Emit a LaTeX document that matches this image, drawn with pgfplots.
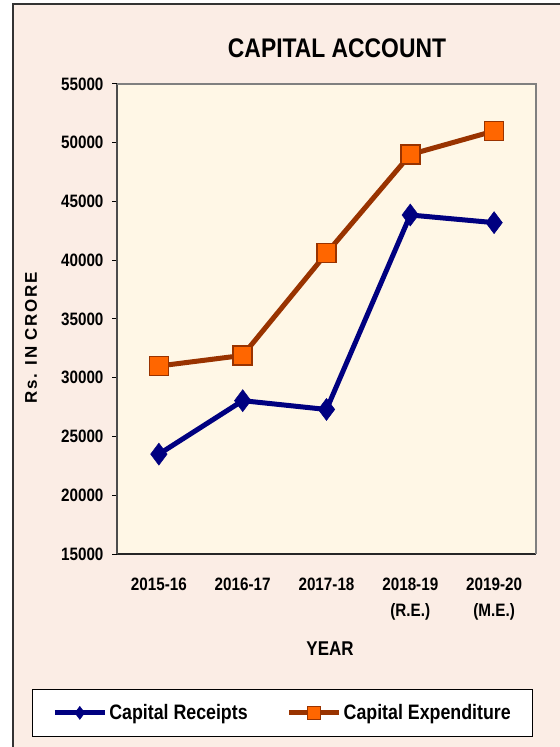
\documentclass[border=0pt]{standalone}
\usepackage{fontspec}
\setmainfont[FakeStretch=0.85]{Liberation Sans}
\newfontfamily\spacedfont[LetterSpace=10]{Liberation Sans}
\usepackage{pgfplots}
\pgfplotsset{compat=1.18}
\definecolor{outerbg}{HTML}{FBEDE5}
\definecolor{plotbg}{HTML}{FFF7E6}
\definecolor{navyline}{HTML}{000080}
\definecolor{brownline}{HTML}{993300}
\definecolor{orangefill}{HTML}{FF6600}
\begin{document}
\begin{tikzpicture}
\fill[white] (0bp,0bp) rectangle (560bp,747bp);
\fill[outerbg] (13bp,0bp) rectangle (560bp,743bp);
\draw[line width=1.5bp, black!80] (13bp,0bp) -- (13bp,743bp) -- (560bp,743bp);
\node[font=\fontsize{27}{27}\selectfont\bfseries] at (337bp,699bp) {CAPITAL ACCOUNT};
\node[font=\fontsize{20}{20}\selectfont\bfseries] at (330bp,98bp) {YEAR};
\node[rotate=90, font=\spacedfont\fontsize{17}{17}\selectfont\bfseries] at (31bp,409bp) {Rs. IN CRORE};
\begin{axis}[at={(117bp,193bp)}, anchor=south west, scale only axis,
  width=419bp, height=470bp,
  xmin=-0.5, xmax=4.5, ymin=15000, ymax=55000,
  ytick={15000,20000,...,55000},
  scaled y ticks=false,
  xtick={0,...,4},
  xticklabels={2015-16,2016-17,2017-18,{2018-19\\(R.E.)},{2019-20\\(M.E.)}},
  minor xtick={-0.5,0.5,...,4.5},
  axis background/.style={fill=plotbg},
  axis x line*=bottom, axis y line*=left,
  x axis line style={black!85, line width=1.5bp, -},
  y axis line style={black!70, line width=1.5bp, -},
  tick align=outside,
  major tick length=5bp, minor tick length=5bp,
  xtick style={draw=none},
  minor x tick style={brownline, line width=1bp},
  ytick style={black, line width=1bp},
  /pgf/number format/1000 sep={},
  /pgf/number format/assume math mode=true,
  ticklabel style={font=\fontsize{18}{27}\selectfont\bfseries},
  xticklabel style={align=center, yshift=-15bp},
  yticklabel style={xshift=-5bp},
  legend columns=2,
  legend style={at={(axis description cs:0.395,-0.338)}, anchor=center,
    draw=black, fill=white, line width=1bp,
    inner xsep=20bp, inner ysep=13bp,
    nodes={inner sep=2bp, text depth=0.2em},
    font=\fontsize{21}{21}\selectfont\bfseries,
    /tikz/every even column/.append style={column sep=37bp}},
  legend cell align=left,
  legend image code/.code={\draw[mark repeat=2, mark phase=2, #1, mark size=6.5bp] plot coordinates {(0bp,0bp)(25bp,0bp)(50bp,0bp)};},
  after end axis/.code={\draw[black!50, line width=2bp] (rel axis cs:0,1) -- (rel axis cs:1,1) -- (rel axis cs:1,0);},
]
\addplot[navyline, line width=5bp, mark=diamond*, mark size=11bp,
  mark options={solid, fill=navyline, draw=navyline, line width=0.5bp}]
  coordinates {(0,23500) (1,28050) (2,27300) (3,43850) (4,43200)};
\addlegendentry{Capital Receipts}
\addplot[brownline, line width=5bp, mark=square*, mark size=9.5bp,
  mark options={solid, fill=orangefill, draw=brownline, line width=1.5bp}]
  coordinates {(0,31000) (1,31900) (2,40600) (3,49000) (4,51000)};
\addlegendentry{Capital Expenditure}
\end{axis}
\pgfresetboundingbox
\useasboundingbox (0bp,0bp) rectangle (560bp,747bp);
\end{tikzpicture}
\end{document}
